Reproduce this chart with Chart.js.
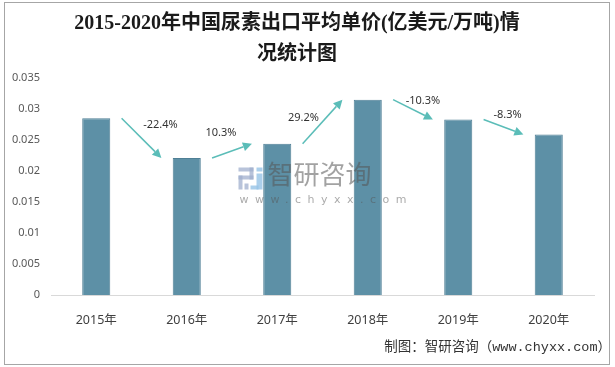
<!DOCTYPE html>
<html>
<head>
<meta charset="utf-8">
<script src="https://cdn.jsdelivr.net/npm/chart.js@4"></script>
<style>
  html, body { margin: 0; padding: 0; background: #fff; }
  #wrap { position: relative; width: 615px; height: 367px; }
</style>
</head>
<body>
<div id="wrap"><canvas id="chart" width="615" height="367"></canvas></div>
<script>
const years = ["2015年", "2016年", "2017年", "2018年", "2019年", "2020年"];
const unitPrice = [0.0285, 0.0221, 0.0244, 0.0315, 0.0283, 0.0259];
const growthLabels = ["-22.4%", "10.3%", "29.2%", "-10.3%", "-8.3%"];
const yMin = 0;
const yMax = 0.035;
const yStep = 0.005;

const titleLines = ["2015-2020年中国尿素出口平均单价(亿美元/万吨)情", "况统计图"];
const footerText = "制图：智研咨询（www.chyxx.com）";

const arrowColor = "#5bbdb8";
const textFont = "'Noto Sans', 'Noto Sans CJK SC', sans-serif";

function drawArrow(ctx, x0, y0, x1, y1) {
    const angle = Math.atan2(y1 - y0, x1 - x0);
    const headLen = 9;
    const headHalf = 4.5;
    const bx = x1 - headLen * Math.cos(angle);
    const by = y1 - headLen * Math.sin(angle);
    ctx.strokeStyle = arrowColor;
    ctx.fillStyle = arrowColor;
    ctx.lineWidth = 1.5;
    ctx.beginPath();
    ctx.moveTo(x0, y0);
    ctx.lineTo(bx, by);
    ctx.stroke();
    ctx.beginPath();
    ctx.moveTo(x1, y1);
    ctx.lineTo(bx + headHalf * Math.sin(angle), by - headHalf * Math.cos(angle));
    ctx.lineTo(bx - headHalf * Math.sin(angle), by + headHalf * Math.cos(angle));
    ctx.closePath();
    ctx.fill();
}

// faint company mark in the middle of the plot
function drawWatermark(ctx, area) {
    const wx = (area.left + area.right) / 2 - 84;
    const wy = (area.top + area.bottom) / 2 - 19;
    ctx.save();
    // logo
    ctx.fillStyle = "rgba(160,175,205,0.75)";
    ctx.fillRect(wx, wy, 15, 4);
    ctx.fillRect(wx + 11, wy, 4, 12);
    ctx.fillRect(wx, wy + 8, 15, 4);
    ctx.fillRect(wx, wy + 8, 4, 14);
    ctx.fillRect(wx + 6, wy + 16, 4, 6);
    ctx.fillStyle = "rgba(150,195,230,0.8)";
    ctx.fillRect(wx + 18, wy, 6, 4);
    ctx.fillRect(wx + 18, wy + 6, 6, 16);
    ctx.fillRect(wx + 12, wy + 18, 8, 4);
    // name
    ctx.fillStyle = "rgba(85,85,85,0.55)";
    ctx.font = "26px 'Noto Sans CJK SC', sans-serif";
    ctx.textBaseline = "top";
    ctx.textAlign = "left";
    ctx.fillText("智研咨询", wx + 29, wy - 6);
    ctx.font = "11px 'DejaVu Sans', sans-serif";
    ctx.letterSpacing = "6.5px";
    ctx.fillStyle = "rgba(85,85,85,0.5)";
    ctx.fillText("www.chyxx.com", wx + 1, wy + 27);
    ctx.restore();
}

const overlayPlugin = {
    id: "overlay",
    beforeDraw(chart) {
        const ctx = chart.ctx;
        ctx.save();
        ctx.fillStyle = "#fff";
        ctx.fillRect(0, 0, chart.width, chart.height);
        ctx.strokeStyle = "#a6a6a6";
        ctx.lineWidth = 1;
        ctx.strokeRect(4.5, 2.5, 605, 362);
        ctx.restore();
    },
    afterDatasetsDraw(chart, args, opts) {
        const ctx = chart.ctx;
        const xs = chart.scales.x;
        const ys = chart.scales.y;
        drawWatermark(ctx, chart.chartArea);

        const cw = xs.getPixelForValue(1) - xs.getPixelForValue(0);
        ctx.save();
        growthLabels.forEach((label, i) => {
            const x0 = xs.getPixelForValue(i) + cw * opts.gap;
            const y0 = ys.getPixelForValue(unitPrice[i]);
            const x1 = xs.getPixelForValue(i + 1) - cw * opts.gap;
            const y1 = ys.getPixelForValue(unitPrice[i + 1]);
            drawArrow(ctx, x0, y0, x1, y1);

            const off = opts.labelOffsets[i];
            ctx.fillStyle = "#333";
            ctx.font = "11px " + textFont;
            ctx.textAlign = "center";
            ctx.textBaseline = "middle";
            ctx.fillText(label, (x0 + x1) / 2 + off[0], (y0 + y1) / 2 + off[1]);
        });

        // source line, bottom right
        ctx.fillStyle = "#333";
        ctx.font = "13.5px 'Liberation Mono', 'Noto Sans CJK SC', monospace";
        ctx.textAlign = "right";
        ctx.textBaseline = "middle";
        ctx.fillText(footerText, chart.width - 4, chart.height - 20);
        ctx.restore();
    }
};

const chart = new Chart(document.getElementById("chart"), {
    type: "bar",
    data: {
        labels: years,
        datasets: [{
            data: unitPrice,
            backgroundColor: "#5d90a6",
            borderColor: "#4f7f95",
            borderWidth: 1,
            barPercentage: 0.31,
            categoryPercentage: 1
        }]
    },
    options: {
        responsive: false,
        animation: false,
        devicePixelRatio: 1,
        layout: {
            padding: { left: 0, right: 21, top: 6, bottom: 21 }
        },
        scales: {
            x: {
                grid: { display: false, drawTicks: false },
                border: { color: "#d9d9d9" },
                ticks: {
                    color: "#404040",
                    padding: 18,
                    font: { family: textFont, size: 12.5 }
                }
            },
            y: {
                min: yMin,
                max: yMax,
                grid: { display: false, drawTicks: false },
                border: { display: false },
                afterFit: scale => { scale.width = 51; },
                ticks: {
                    stepSize: yStep,
                    color: "#595959",
                    padding: 11,
                    font: { family: textFont, size: 11 },
                    callback: value => String(+value.toFixed(3))
                }
            }
        },
        plugins: {
            legend: { display: false },
            tooltip: { enabled: false },
            title: {
                display: true,
                text: titleLines,
                color: "#1a1a1a",
                font: { family: "'Liberation Serif', 'Noto Sans CJK SC', serif", size: 20, weight: "bold", lineHeight: 1.55 },
                padding: { top: 2, bottom: 8 }
            },
            overlay: {
                gap: 0.28,
                labelOffsets: [[19, -13], [-11, -18], [-19, -4], [10, -9], [4, -12]]
            }
        }
    },
    plugins: [overlayPlugin]
});
</script>
</body>
</html>
